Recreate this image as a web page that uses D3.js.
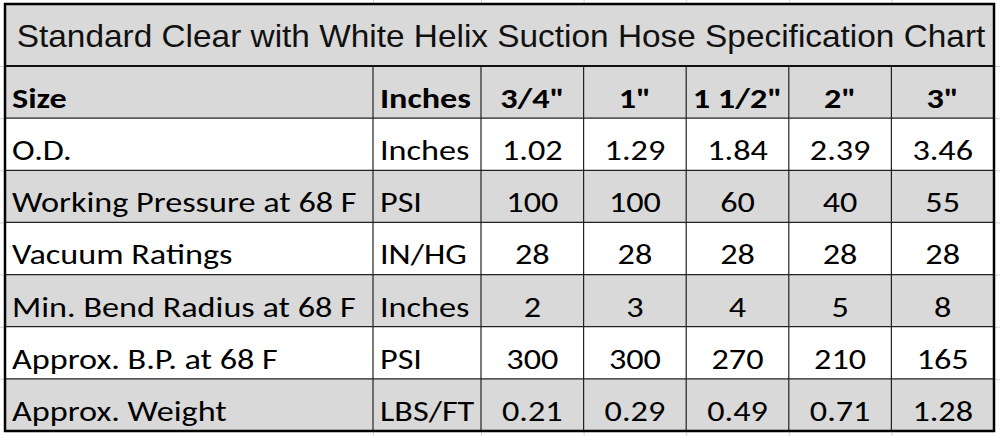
<!DOCTYPE html>
<html>
<head>
<meta charset="utf-8">
<script src="https://cdn.jsdelivr.net/npm/d3@7"></script>
<style>
  html, body { margin: 0; padding: 0; background: #fff; }
  svg { display: block; }
</style>
</head>
<body>
<svg id="chart" width="1000" height="436"></svg>
<script>
// table content
const title = "Standard Clear with White Helix Suction Hose Specification Chart";
const sizes = ['3/4"', '1"', '1 1/2"', '2"', '3"'];
const properties = [
  "O.D.",
  "Working Pressure at 68 F",
  "Vacuum Ratings",
  "Min. Bend Radius at 68 F",
  "Approx. B.P. at 68 F",
  "Approx. Weight"
];
const units = ["Inches", "PSI", "IN/HG", "Inches", "PSI", "LBS/FT"];
const odValues = ["1.02", "1.29", "1.84", "2.39", "3.46"];
const workingPressure = ["100", "100", "60", "40", "55"];
const vacuumRatings = ["28", "28", "28", "28", "28"];
const bendRadius = ["2", "3", "4", "5", "8"];
const burstPressure = ["300", "300", "270", "210", "165"];
const weights = ["0.21", "0.29", "0.49", "0.71", "1.28"];

const values = [odValues, workingPressure, vacuumRatings, bendRadius, burstPressure, weights];

// layout
const tLeft = 5, tRight = 994, tTop = 4, titleBottom = 66, tBottom = 431;
const unitX = 373, sizeX = 481;
const bodyFont = "Carlito, Calibri, Lato, sans-serif";
const bodySize = 28.5;
const bodyStretch = 1.2;   // the picture is a little wider than the font
const gray = "#d9d9d9";

const svg = d3.select("#chart");

const rowKeys = ["header"].concat(properties);
const y = d3.scaleBand().domain(rowKeys).range([titleBottom, tBottom]);
const x = d3.scaleBand().domain(sizes).range([sizeX, tRight]);

// place a text at (px, py) with a horizontal stretch
const place = (sel, px, py, sx) =>
  sel.attr("transform", (d, i) => `translate(${typeof px === "function" ? px(d, i) : px},${typeof py === "function" ? py(d, i) : py}) scale(${sx},1)`);

// faint sheet gridlines outside the table
const grid = svg.append("g").attr("stroke", "#d4d4d4").attr("stroke-width", 1);
[unitX, sizeX].concat(sizes.slice(1).map(s => x(s))).forEach(gx => {
  grid.append("line").attr("x1", gx + 0.5).attr("x2", gx + 0.5).attr("y1", 0).attr("y2", tTop);
  grid.append("line").attr("x1", gx + 0.5).attr("x2", gx + 0.5).attr("y1", tBottom).attr("y2", 436);
});
[titleBottom].concat(rowKeys.slice(1).map(k => y(k))).forEach(gy => {
  grid.append("line").attr("x1", 0).attr("x2", tLeft).attr("y1", gy + 0.5).attr("y2", gy + 0.5);
  grid.append("line").attr("x1", tRight).attr("x2", 1000).attr("y1", gy + 0.5).attr("y2", gy + 0.5);
});

// title row
svg.append("rect")
  .attr("x", tLeft).attr("y", tTop)
  .attr("width", tRight - tLeft).attr("height", titleBottom - tTop)
  .attr("fill", gray);
svg.append("text")
  .attr("text-anchor", "middle")
  .attr("font-family", "Liberation Sans, Arial, sans-serif")
  .attr("font-size", 30.5)
  .attr("fill", "#111")
  .text(title)
  .call(place, 501, 47, 1.095);

// row fills (alternating)
svg.append("g").selectAll("rect")
  .data(rowKeys)
  .join("rect")
  .attr("x", tLeft).attr("y", d => y(d))
  .attr("width", tRight - tLeft).attr("height", y.bandwidth())
  .attr("fill", (d, i) => i % 2 === 0 ? gray : "#fff");

const base = 42; // baseline offset inside a row

// header row
const header = svg.append("g")
  .attr("font-family", bodyFont)
  .attr("font-weight", "bold")
  .attr("font-size", bodySize)
  .attr("fill", "#000");
header.append("text").text("Size").call(place, tLeft + 7, y("header") + base, bodyStretch);
header.append("text").text("Inches").call(place, unitX + 7, y("header") + base, bodyStretch);
header.selectAll(".size")
  .data(sizes)
  .join("text")
  .attr("class", "size")
  .attr("text-anchor", "middle")
  .text(d => d)
  .call(place, d => x(d) + x.bandwidth() / 2, y("header") + base, bodyStretch);

// body rows
const body = svg.append("g")
  .attr("font-family", bodyFont)
  .attr("font-size", bodySize)
  .attr("fill", "#000");

const rows = body.selectAll("g.row")
  .data(properties.map((p, i) => ({ name: p, unit: units[i], vals: values[i] })))
  .join("g")
  .attr("class", "row")
  .attr("transform", d => `translate(0,${y(d.name) + base})`);

rows.append("text").text(d => d.name).call(place, tLeft + 7, 0, bodyStretch);
rows.append("text").text(d => d.unit).call(place, unitX + 7, 0, bodyStretch);
rows.selectAll("text.val")
  .data(d => d.vals.map((v, j) => ({ v, size: sizes[j] })))
  .join("text")
  .attr("class", "val")
  .attr("text-anchor", "middle")
  .text(d => d.v)
  .call(place, d => x(d.size) + x.bandwidth() / 2, 0, bodyStretch);

// inner borders
const lines = svg.append("g").attr("stroke", "#222").attr("stroke-width", 1.2);
rowKeys.slice(1).forEach(k => {
  lines.append("line").attr("x1", tLeft).attr("x2", tRight).attr("y1", y(k)).attr("y2", y(k));
});
[unitX, sizeX].concat(sizes.slice(1).map(s => x(s))).forEach(cx => {
  lines.append("line").attr("x1", cx).attr("x2", cx).attr("y1", titleBottom).attr("y2", tBottom);
});
svg.append("line")
  .attr("x1", tLeft).attr("x2", tRight).attr("y1", titleBottom).attr("y2", titleBottom)
  .attr("stroke", "#111").attr("stroke-width", 2);

// outer border
svg.append("rect")
  .attr("x", tLeft).attr("y", tTop)
  .attr("width", tRight - tLeft).attr("height", tBottom - tTop)
  .attr("fill", "none").attr("stroke", "#000").attr("stroke-width", 2.5);
</script>
</body>
</html>
